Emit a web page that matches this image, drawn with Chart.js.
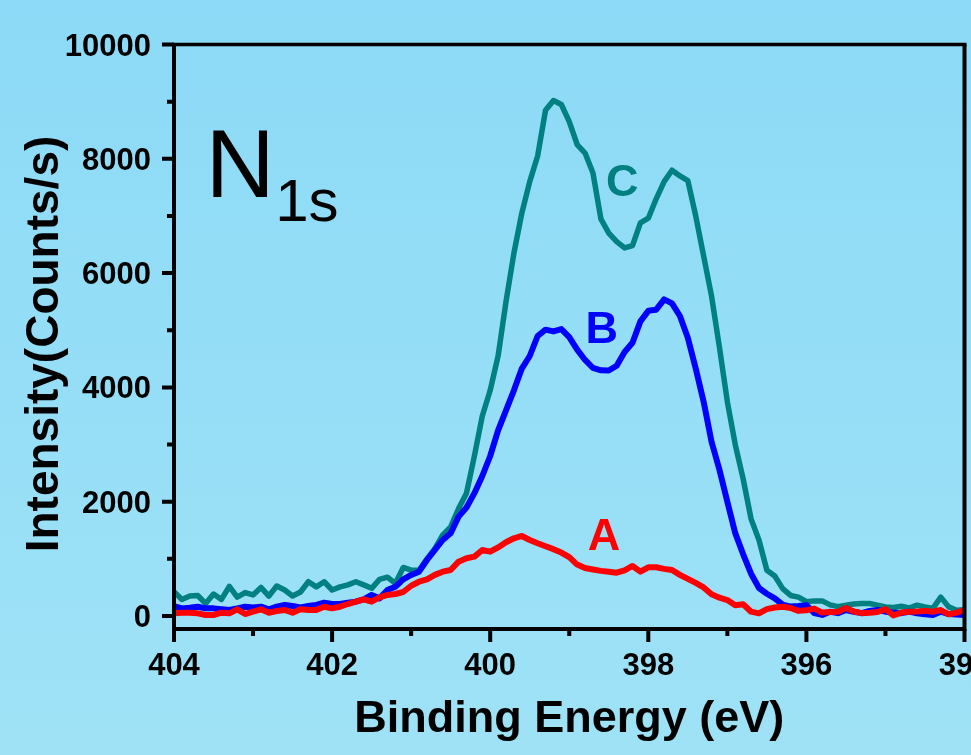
<!DOCTYPE html>
<html>
<head>
<meta charset="utf-8">
<script src="https://cdn.jsdelivr.net/npm/chart.js@4.4.1/dist/chart.umd.min.js"></script>
<style>
  html, body { margin: 0; padding: 0; background: #94DDF6; }
  #wrap { width: 971px; height: 755px; }
</style>
</head>
<body>
<div id="wrap"><canvas id="c" width="971" height="755"></canvas></div>
<script>
// Binding energy (eV), 404.0 -> 394.0
const energies = [
  404.0,403.9,403.8,403.7,403.6,403.5,403.4,403.3,403.2,403.1,
  403.0,402.9,402.8,402.7,402.6,402.5,402.4,402.3,402.2,402.1,
  402.0,401.9,401.8,401.7,401.6,401.5,401.4,401.3,401.2,401.1,
  401.0,400.9,400.8,400.7,400.6,400.5,400.4,400.3,400.2,400.1,
  400.0,399.9,399.8,399.7,399.6,399.5,399.4,399.3,399.2,399.1,
  399.0,398.9,398.8,398.7,398.6,398.5,398.4,398.3,398.2,398.1,
  398.0,397.9,397.8,397.7,397.6,397.5,397.4,397.3,397.2,397.1,
  397.0,396.9,396.8,396.7,396.6,396.5,396.4,396.3,396.2,396.1,
  396.0,395.9,395.8,395.7,395.6,395.5,395.4,395.3,395.2,395.1,
  395.0,394.9,394.8,394.7,394.6,394.5,394.4,394.3,394.2,394.1,
  394.0
];
// Sample A (red)
const seriesA = [
  47,58,58,47,18,18,58,47,117,35,
  76,117,58,88,105,58,117,105,105,163,
  134,163,210,251,292,251,327,368,385,420,
  530,600,640,720,776,806,951,1010,1040,1156,
  1126,1200,1290,1360,1401,1331,1273,1220,1170,1110,
  1030,900,840,815,790,775,758,800,876,776,
  853,853,825,806,720,650,580,500,380,320,
  280,190,205,76,47,120,150,163,140,90,
  100,130,60,70,76,140,80,50,58,70,
  120,10,60,76,80,90,76,105,30,60,
  105
];
// Sample B (blue)
const seriesB = [
  175,134,146,163,134,134,120,105,134,163,
  150,163,117,163,193,175,150,175,193,233,
  210,210,233,251,292,368,309,455,513,642,
  718,776,980,1156,1331,1448,1739,1900,2150,2450,
  2800,3250,3600,3950,4330,4550,4900,5010,4980,5020,
  4880,4660,4480,4340,4300,4296,4380,4620,4780,5155,
  5340,5360,5540,5470,5250,4870,4330,3750,3050,2560,
  2000,1450,1080,740,490,390,310,200,165,175,
  190,50,20,75,50,105,75,50,90,105,
  76,60,50,76,47,30,18,76,35,25,
  18
];
// Sample C (teal)
const seriesC = [
  425,290,350,360,220,385,290,520,330,410,
  370,500,350,525,455,350,420,600,510,600,
  455,510,545,600,545,485,640,680,570,850,
  805,800,1000,1180,1420,1560,1880,2150,2800,3500,
  3950,4550,5500,6350,7050,7600,8050,8850,9020,8950,
  8650,8250,8100,7750,6950,6700,6550,6440,6480,6880,
  6960,7300,7600,7800,7700,7620,7000,6300,5600,4700,
  3750,3000,2400,1700,1330,800,700,480,360,330,
  250,265,265,195,165,190,210,220,220,190,
  160,150,170,140,190,160,135,330,160,100,
  110
];
const seriesNames = ['A', 'B', 'C'];
const xTickLabels = [404, 402, 400, 398, 396, 394];
const xMinorTicks = [403, 401, 399, 397, 395];
const yTickLabels = [0, 2000, 4000, 6000, 8000, 10000];
const yMinorTicks = [1000, 3000, 5000, 7000, 9000];
const xTitle = 'Binding Energy (eV)';
const yTitle = 'Intensity(Counts/s)';

const FONT = '"Liberation Sans", Arial, Helvetica, sans-serif';
const colors = { A: '#FF0000', B: '#0000FF', C: '#008080' };

function pts(vals) { return energies.map((e, i) => ({ x: e, y: vals[i] })); }

const frame = {
  id: 'frame',
  beforeDraw(chart) {
    const { ctx, width, height } = chart;
    ctx.save();
    const g = ctx.createLinearGradient(0, 0, 0, height);
    g.addColorStop(0, '#8CDAF7');
    g.addColorStop(1, '#9FE2F6');
    ctx.fillStyle = g;
    ctx.fillRect(0, 0, width, height);
    ctx.restore();
  },
  afterDatasetsDraw(chart) {
    const { ctx, chartArea: a, scales: { x, y } } = chart;
    ctx.save();
    ctx.strokeStyle = '#000';
    ctx.fillStyle = '#000';
    ctx.lineCap = 'butt';
    // frame
    ctx.lineWidth = 4;
    ctx.beginPath();
    ctx.moveTo(a.left, a.top); ctx.lineTo(a.left, a.bottom);
    ctx.moveTo(a.left - 2, a.bottom); ctx.lineTo(a.right + 2, a.bottom);
    ctx.moveTo(a.right, a.bottom); ctx.lineTo(a.right, a.top);
    ctx.stroke();
    ctx.lineWidth = 3.5;
    ctx.beginPath();
    ctx.moveTo(a.left - 2, a.top); ctx.lineTo(a.right + 2, a.top);
    ctx.stroke();
    // x ticks
    ctx.lineWidth = 4;
    ctx.beginPath();
    xTickLabels.forEach(v => { const p = x.getPixelForValue(v); ctx.moveTo(p, a.bottom); ctx.lineTo(p, a.bottom + 13); });
    xMinorTicks.forEach(v => { const p = x.getPixelForValue(v); ctx.moveTo(p, a.bottom); ctx.lineTo(p, a.bottom + 7); });
    // y ticks
    yTickLabels.forEach(v => { const p = y.getPixelForValue(v); ctx.moveTo(a.left, p); ctx.lineTo(a.left - 12, p); });
    yMinorTicks.forEach(v => { const p = y.getPixelForValue(v); ctx.moveTo(a.left, p); ctx.lineTo(a.left - 7, p); });
    ctx.stroke();
    // tick labels
    ctx.font = 'bold 31px ' + FONT;
    ctx.textAlign = 'center';
    ctx.textBaseline = 'alphabetic';
    xTickLabels.forEach(v => ctx.fillText(String(v), x.getPixelForValue(v), a.bottom + 46));
    ctx.textAlign = 'right';
    yTickLabels.forEach(v => ctx.fillText(String(v), a.left - 23, y.getPixelForValue(v) + 11));
    // axis titles
    ctx.font = 'bold 45px ' + FONT;
    ctx.textAlign = 'center';
    ctx.fillText(xTitle, (a.left + a.right) / 2, 732);
    ctx.save();
    ctx.translate(58, 344);
    ctx.rotate(-Math.PI / 2);
    ctx.font = 'bold 46px ' + FONT;
    ctx.fillText(yTitle, 0, 0);
    ctx.restore();
    // in-plot labels
    ctx.textAlign = 'center';
    ctx.font = 'bold 45px ' + FONT;
    ctx.fillStyle = colors.C; ctx.fillText(seriesNames[2], x.getPixelForValue(398.33), y.getPixelForValue(7350));
    ctx.fillStyle = colors.B; ctx.fillText(seriesNames[1], x.getPixelForValue(398.59), y.getPixelForValue(4780));
    ctx.fillStyle = colors.A; ctx.fillText(seriesNames[0], x.getPixelForValue(398.56), y.getPixelForValue(1155));
    ctx.fillStyle = '#000';
    ctx.textAlign = 'left';
    ctx.font = '96px ' + FONT;
    ctx.fillText('N', x.getPixelForValue(403.6), y.getPixelForValue(7330));
    ctx.font = '60px ' + FONT;
    ctx.fillText('1s', x.getPixelForValue(402.72), y.getPixelForValue(6920));
    ctx.restore();
  }
};

new Chart(document.getElementById('c'), {
  type: 'line',
  data: {
    datasets: [
      { label: seriesNames[0], data: pts(seriesA), borderColor: colors.A, borderWidth: 6 },
      { label: seriesNames[1], data: pts(seriesB), borderColor: colors.B, borderWidth: 6 },
      { label: seriesNames[2], data: pts(seriesC), borderColor: colors.C, borderWidth: 5.5 }
    ]
  },
  options: {
    responsive: false,
    animation: false,
    devicePixelRatio: 1,
    layout: { padding: { left: 174, right: 6.5, top: 44.5, bottom: 126 } },
    elements: { point: { radius: 0 }, line: { tension: 0, borderJoinStyle: 'round', borderCapStyle: 'round' } },
    plugins: { legend: { display: false }, tooltip: { enabled: false } },
    scales: {
      x: { type: 'linear', min: 394, max: 404, reverse: true, display: false },
      y: { type: 'linear', min: -227, max: 10000, display: false }
    }
  },
  plugins: [frame]
});
</script>
</body>
</html>
